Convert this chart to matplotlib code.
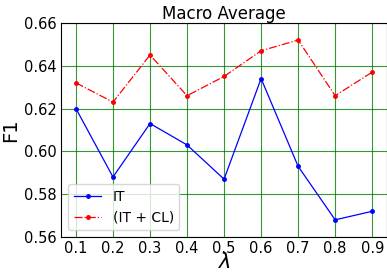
import matplotlib
matplotlib.use("Agg")
import matplotlib.pyplot as plt

# lambda values and F1 scores
lambdas = [0.1, 0.2, 0.3, 0.4, 0.5, 0.6, 0.7, 0.8, 0.9]
f1_it = [0.620, 0.588, 0.613, 0.603, 0.587, 0.634, 0.593, 0.568, 0.572]
f1_it_cl = [0.632, 0.623, 0.645, 0.626, 0.635, 0.647, 0.652, 0.626, 0.637]

fig = plt.figure(figsize=(3.87, 2.73), dpi=100)
ax = fig.add_axes([0.158, 0.132, 0.842, 0.784])

ax.plot(lambdas, f1_it, color='blue', linestyle='-', marker='.', markersize=5,
        linewidth=0.9, label='IT')
ax.plot(lambdas, f1_it_cl, color='red', linestyle='-.', marker='.', markersize=5,
        linewidth=0.9, label='(IT + CL)')

ax.set_ylim(0.56, 0.66)
ax.set_xticks(lambdas)
ax.set_yticks([0.56, 0.58, 0.60, 0.62, 0.64, 0.66])
ax.set_yticklabels(['0.56', '0.58', '0.60', '0.62', '0.64', '0.66'])
ax.tick_params(labelsize=10.5, length=0, pad=3)
ax.grid(True, color='green', linewidth=0.8, alpha=0.8)

ax.set_title('Macro Average', fontsize=12, pad=2)
ax.set_xlabel(r'$\lambda$', fontsize=15, labelpad=-3)
ax.set_ylabel('F1', fontsize=14, labelpad=3)
ax.legend(loc='lower left', fontsize=10)

fig.savefig('out.png', dpi=100)
